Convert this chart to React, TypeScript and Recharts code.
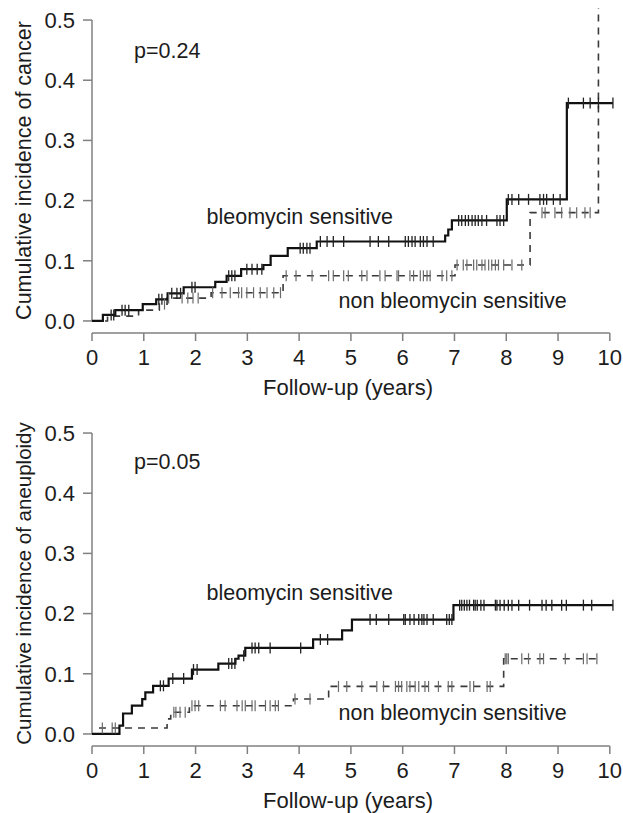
import React from "react";
import { ComposedChart, Line, Scatter, XAxis, YAxis, ReferenceLine } from "recharts";

const xTicks = [0, 1, 2, 3, 4, 5, 6, 7, 8, 9, 10];
const yTicks = [0, 0.1, 0.2, 0.3, 0.4, 0.5];

// cancer, bleomycin sensitive
const cancerSensTimes = [0, 0.21, 0.45, 0.98, 1.24, 1.46, 1.77, 2.38, 2.6, 2.88, 3.31, 3.45, 3.78, 4.34, 6.82, 6.88, 6.95, 8.01, 9.17, 10.06];
const cancerSensLevels = [0, 0.01, 0.018, 0.028, 0.036, 0.046, 0.056, 0.065, 0.075, 0.086, 0.093, 0.108, 0.121, 0.132, 0.142, 0.152, 0.167, 0.202, 0.362, 0.362];
const cancerSensCensor = [0.37, 0.42, 0.58, 0.64, 0.71, 1.29, 1.35, 1.54, 1.64, 1.71, 1.93, 1.99, 2.64, 2.7, 2.76, 2.99, 3.09, 3.19, 3.28, 4.02, 4.08, 4.15, 4.21, 4.41, 4.54, 4.66, 4.86, 5.37, 5.53, 5.73, 6.05, 6.11, 6.18, 6.24, 6.34, 6.4, 6.47, 6.59, 7.08, 7.14, 7.21, 7.27, 7.34, 7.4, 7.46, 7.53, 7.62, 7.82, 7.88, 7.95, 8.04, 8.11, 8.24, 8.43, 8.65, 8.72, 8.78, 8.91, 9.04, 9.2, 9.49, 9.62, 9.78, 10.06];

// cancer, non bleomycin sensitive
const cancerNonTimes = [0, 0.3, 0.9, 1.3, 1.45, 2.3, 3.69, 7.01, 8.46, 9.78];
const cancerNonLevels = [0, 0.008, 0.018, 0.028, 0.038, 0.047, 0.075, 0.093, 0.18, 1.0];
const cancerNonCensor = [1.4, 1.48, 1.74, 1.85, 1.95, 2.05, 2.33, 2.51, 2.67, 2.83, 2.89, 2.99, 3.12, 3.25, 3.38, 3.51, 3.64, 3.75, 3.94, 4.25, 4.57, 4.66, 4.86, 4.95, 5.21, 5.31, 5.56, 5.66, 5.89, 5.92, 6.14, 6.21, 6.34, 6.4, 6.47, 6.53, 6.76, 6.85, 6.95, 7.05, 7.17, 7.24, 7.37, 7.43, 7.53, 7.59, 7.66, 7.72, 7.79, 7.85, 7.95, 8.11, 8.3, 8.69, 8.75, 8.94, 9.07, 9.23, 9.36, 9.52, 9.62];

// aneuploidy, bleomycin sensitive
const aneuSensTimes = [0, 0.53, 0.6, 0.77, 0.97, 1.03, 1.18, 1.48, 1.93, 2.44, 2.77, 2.83, 2.96, 4.27, 4.83, 5.02, 6.98, 10.06];
const aneuSensLevels = [0, 0.014, 0.034, 0.047, 0.058, 0.069, 0.08, 0.092, 0.107, 0.117, 0.125, 0.13, 0.143, 0.157, 0.172, 0.19, 0.214, 0.214];
const aneuSensCensor = [1.32, 1.38, 1.56, 1.77, 1.96, 2.03, 2.64, 2.7, 2.76, 2.93, 3.09, 3.15, 3.22, 3.44, 4.03, 4.41, 4.55, 5.37, 5.49, 5.73, 6.02, 6.05, 6.14, 6.22, 6.31, 6.37, 6.41, 6.47, 6.59, 6.85, 6.9, 6.95, 7.1, 7.14, 7.19, 7.24, 7.29, 7.37, 7.4, 7.44, 7.51, 7.57, 7.79, 7.82, 7.88, 7.96, 8.04, 8.11, 8.24, 8.45, 8.69, 8.77, 8.88, 9.07, 9.16, 9.49, 9.65, 10.06];

// aneuploidy, non bleomycin sensitive
const aneuNonTimes = [0, 0.13, 1.45, 1.52, 1.88, 3.89, 4.57, 7.95, 9.78];
const aneuNonLevels = [0, 0.01, 0.025, 0.036, 0.047, 0.058, 0.079, 0.125, 0.125];
const aneuNonCensor = [0.2, 0.39, 0.45, 1.58, 1.62, 1.7, 1.8, 1.93, 1.99, 2.06, 2.48, 2.57, 2.8, 2.9, 2.96, 3.09, 3.15, 3.35, 3.44, 3.54, 3.6, 3.92, 4.21, 4.76, 4.92, 5.21, 5.5, 5.63, 5.86, 5.92, 5.98, 6.08, 6.14, 6.24, 6.31, 6.43, 6.5, 6.69, 6.88, 6.95, 7.3, 7.37, 7.63, 7.69, 7.98, 8.01, 8.04, 8.3, 8.43, 8.65, 8.72, 9.14, 9.49, 9.56, 9.75];

const FONT = '"Liberation Sans", Arial, Helvetica, sans-serif';
const AXIS = "#808080";
const INK = "#1c1c1c";

const steps = (times: number[], levels: number[]) => times.map((t, i) => ({ t, v: levels[i] }));

// place each censoring mark on the curve at its time
const marks = (times: number[], levels: number[], cens: number[]) =>
  cens.map((c) => {
    let v = levels[0];
    times.forEach((t, i) => {
      if (t <= c) v = levels[i];
    });
    return { t: c, v };
  });

const censorTick = (color: string, w: number) => (p: any) =>
  <line x1={p.cx} x2={p.cx} y1={p.cy - 5.5} y2={p.cy + 5.5} stroke={color} strokeWidth={w} />;

interface PanelProps {
  top: number;
  height: number;
  sens: { t: number; v: number }[];
  non: { t: number; v: number }[];
  sensMarks: { t: number; v: number }[];
  nonMarks: { t: number; v: number }[];
  yTitle: string;
  yTitleSize: number;
  pText: string;
  pY: number;
  sensY: number;
  nonY: number;
}

function Panel({ top, height, sens, non, sensMarks, nonMarks, yTitle, yTitleSize, pText, pY, sensY, nonY }: PanelProps) {
  const title = { fontFamily: FONT, fontSize: 22, fill: INK };
  const note = { fontFamily: FONT, fontSize: 21.5, fill: INK };
  return (
    <div style={{ position: "absolute", left: 0, top, width: 623, height }}>
      <ComposedChart width={623} height={height} margin={{ top: 8, right: 8, bottom: 0, left: 0 }}>
        <XAxis
          type="number"
          dataKey="t"
          domain={[0, 10.1]}
          ticks={xTicks}
          allowDataOverflow
          axisLine={false}
          tickLine={{ stroke: AXIS, strokeWidth: 1.5 }}
          tickSize={8}
          tickMargin={8}
          height={height - 333}
          tick={{ fontSize: 22, fill: INK, fontFamily: FONT }}
        />
        <YAxis
          type="number"
          dataKey="v"
          domain={[-0.02, 0.52]}
          ticks={yTicks}
          allowDataOverflow
          axisLine={false}
          tickLine={{ stroke: AXIS, strokeWidth: 1.5 }}
          tickSize={9}
          tickMargin={8}
          width={92}
          tickFormatter={(v: number) => v.toFixed(1)}
          tick={{ fontSize: 22, fill: INK, fontFamily: FONT }}
        />
        <ReferenceLine segment={[{ x: 0, y: 0 }, { x: 0, y: 0.5 }]} stroke={AXIS} strokeWidth={1.5} ifOverflow="visible" />
        <ReferenceLine segment={[{ x: 0, y: -0.02 }, { x: 10, y: -0.02 }]} stroke={AXIS} strokeWidth={1.5} ifOverflow="visible" />
        <Line data={non} dataKey="v" type="stepAfter" stroke="#3a3a3a" strokeWidth={1.6} strokeDasharray="7 6" dot={false} activeDot={false} isAnimationActive={false} />
        <Scatter data={nonMarks} shape={censorTick("#6a6a6a", 1.2)} isAnimationActive={false} />
        <Line data={sens} dataKey="v" type="stepAfter" stroke="#111" strokeWidth={2.2} dot={false} activeDot={false} isAnimationActive={false} />
        <Scatter data={sensMarks} shape={censorTick("#222", 1.3)} isAnimationActive={false} />
      </ComposedChart>
      <svg width={623} height={height} style={{ position: "absolute", left: 0, top: 0, pointerEvents: "none", overflow: "visible" }}>
        <text {...title} fontSize={yTitleSize} x={31} y={170.5} textAnchor="middle" transform="rotate(-90 31 170.5)">{yTitle}</text>
        <text {...title} x={348} y={395} textAnchor="middle">Follow-up (years)</text>
        <text {...note} x={134} y={pY}>{pText}</text>
        <text {...note} x={206.5} y={sensY}>bleomycin sensitive</text>
        <text {...note} x={338.5} y={nonY}>non bleomycin sensitive</text>
      </svg>
    </div>
  );
}

export default function App() {
  return (
    <div style={{ position: "absolute", left: 0, top: 0, width: 623, height: 813, background: "#fff" }}>
      <Panel
        top={0}
        height={406}
        sens={steps(cancerSensTimes, cancerSensLevels)}
        non={steps(cancerNonTimes, cancerNonLevels)}
        sensMarks={marks(cancerSensTimes, cancerSensLevels, cancerSensCensor)}
        nonMarks={marks(cancerNonTimes, cancerNonLevels, cancerNonCensor)}
        yTitle="Cumulative incidence of cancer"
        yTitleSize={21.5}
        pText="p=0.24"
        pY={58}
        sensY={224}
        nonY={308}
      />
      <Panel
        top={413}
        height={400}
        sens={steps(aneuSensTimes, aneuSensLevels)}
        non={steps(aneuNonTimes, aneuNonLevels)}
        sensMarks={marks(aneuSensTimes, aneuSensLevels, aneuSensCensor)}
        nonMarks={marks(aneuNonTimes, aneuNonLevels, aneuNonCensor)}
        yTitle="Cumulative incidence of aneuploidy"
        yTitleSize={20.5}
        pText="p=0.05"
        pY={56}
        sensY={187}
        nonY={307}
      />
    </div>
  );
}
